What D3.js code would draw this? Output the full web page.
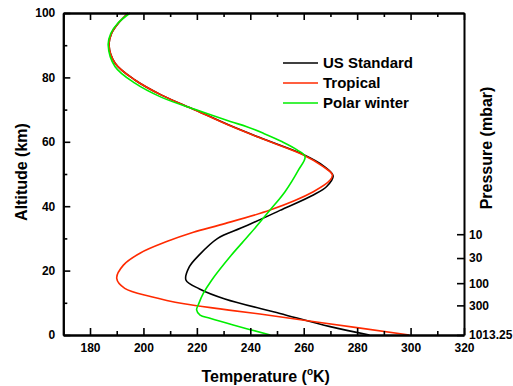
<!DOCTYPE html>
<meta charset="utf-8">
<style>
body { margin: 0; background: #fff; }
text { font-family: "Liberation Sans", Arial, sans-serif; font-weight: bold; }
.axis path, .axis line { stroke: #000; }
.axis path { stroke-width: 2px; }
.axis line { stroke-width: 1.6px; }
.axis text { font-size: 12px; fill: #000; }
.curve { fill: none; stroke-width: 1.6px; }
</style>
<body>
<script src="https://d3js.org/d3.v7.min.js"></script>
<script>
var width = 513,
    height = 386;

// altitude (km) -> temperature (K)
var usAlt   = [0, 2.6, 6.7, 11.2, 14.3, 17.1, 21.2, 24.8, 30, 33.2, 36.3, 38.7, 43.5, 46.1, 49.4, 52.4, 55.9, 60.6, 65.2, 69.9, 74.5, 79.2, 84.4, 90.1, 93.7, 96.8, 100];
var usTemp  = [284.6, 269.9, 251.1, 230.5, 221, 215.9, 217.2, 220.8, 227.8, 236.5, 244.9, 251.1, 263.6, 268.6, 271, 267.6, 260.2, 245.7, 232, 219.4, 206.8, 196.8, 189.4, 187.1, 188.1, 190.6, 194.3];

var tropAlt  = [0, 3.9, 6.5, 8.1, 9.7, 11.9, 14.5, 17.6, 21.7, 25.4, 29, 31.9, 34.2, 38.8, 44.5, 48.1, 49.8, 52.3, 55.9, 60.6, 65.2, 69.9, 74.5, 79.2, 84.4, 90.1, 93.7, 96.8, 100];
var tropTemp = [299.5, 266.1, 243.6, 228.7, 215.2, 203, 193, 190, 192.5, 198.7, 208.7, 218.7, 228.7, 247.4, 263.6, 269.9, 270.7, 267.3, 259.9, 245.5, 231.8, 219.3, 206.8, 196.8, 189.4, 187.1, 188.1, 190.6, 194.3];

var polAlt  = [0, 3.1, 5.2, 6.2, 7.8, 9.5, 12.9, 17.1, 24.3, 31.5, 38.8, 44.5, 51.2, 55.4, 57.5, 60, 62.6, 64.7, 66.3, 70, 73.8, 78.2, 83.3, 90.1, 93.7, 96.8, 100];
var polTemp = [247.5, 233.6, 224.9, 221.2, 219.9, 220.6, 222.4, 225.6, 232.4, 240, 247.4, 253, 258, 260.5, 257.5, 252, 245, 238.7, 232.5, 219.5, 206.8, 196.8, 189.4, 186.8, 187.8, 190.4, 195];

var seriesNames  = ["US Standard", "Tropical", "Polar winter"];
var seriesColors = ["#000000", "#ff2a00", "#00ee00"];

var tempTicks = [180, 200, 220, 240, 260, 280, 300, 320];
var tempMinor = [170, 190, 210, 230, 250, 270, 290, 310];
var altTicks  = [0, 20, 40, 60, 80, 100];
var altMinor  = [10, 30, 50, 70, 90];
var pressLabels = ["10", "30", "100", "300", "1013.25"];
var pressAlt    = [31.3, 23.9, 16.1, 9.2, 0];

var svg = d3.select("body").append("svg")
    .attr("width", width)
    .attr("height", height);

var x = d3.scaleLinear().domain([170, 320]).range([63.3, 464]);
var y = d3.scaleLinear().domain([0, 100]).range([335, 13]);

// curves
var series = [
  d3.zip(usAlt, usTemp),
  d3.zip(tropAlt, tropTemp),
  d3.zip(polAlt, polTemp)
];

var line = d3.line()
    .x(function(d) { return x(d[1]); })
    .y(function(d) { return y(d[0]); })
    .curve(d3.curveCatmullRom.alpha(0.5));

svg.selectAll(".curve")
    .data(series)
  .enter().append("path")
    .attr("class", "curve")
    .attr("stroke", function(d, i) { return seriesColors[i]; })
    .attr("d", line);

// minor ticks
svg.append("g").attr("class", "axis")
    .attr("transform", "translate(0," + y(0) + ")")
    .call(d3.axisBottom(x).tickValues(tempMinor).tickSize(-4).tickSizeOuter(0).tickFormat(""));
svg.append("g").attr("class", "axis")
    .attr("transform", "translate(0," + y(100) + ")")
    .call(d3.axisTop(x).tickValues(tempMinor).tickSize(-4).tickSizeOuter(0).tickFormat(""));
svg.append("g").attr("class", "axis")
    .attr("transform", "translate(" + x(170) + ",0)")
    .call(d3.axisLeft(y).tickValues(altMinor).tickSize(-4).tickSizeOuter(0).tickFormat(""));

// major axes
svg.append("g").attr("class", "axis")
    .attr("transform", "translate(0," + y(0) + ")")
    .call(d3.axisBottom(x).tickValues(tempTicks).tickSize(-7).tickSizeOuter(0).tickPadding(8));
svg.append("g").attr("class", "axis")
    .attr("transform", "translate(0," + y(100) + ")")
    .call(d3.axisTop(x).tickValues(tempTicks).tickSize(-7).tickSizeOuter(0).tickFormat(""));
svg.append("g").attr("class", "axis")
    .attr("transform", "translate(" + x(170) + ",0)")
    .call(d3.axisLeft(y).tickValues(altTicks).tickSize(-7).tickSizeOuter(0).tickPadding(8));
svg.append("g").attr("class", "axis")
    .attr("transform", "translate(" + x(320) + ",0)")
    .call(d3.axisRight(y).tickValues(pressAlt).tickSize(-7).tickSizeOuter(0).tickPadding(5)
      .tickFormat(function(d, i) { return pressLabels[i]; }));

// axis titles
var xt = svg.append("text")
    .attr("x", (x(170) + x(320)) / 2 + 2)
    .attr("y", 382)
    .attr("text-anchor", "middle")
    .style("font-size", "16px")
    .text("Temperature (");
xt.append("tspan").attr("dy", -7).style("font-size", "10px").text("o");
xt.append("tspan").attr("dy", 7).text("K)");

svg.append("text")
    .attr("transform", "translate(27,172) rotate(-90)")
    .attr("text-anchor", "middle")
    .style("font-size", "16px")
    .text("Altitude (km)");

svg.append("text")
    .attr("transform", "translate(492,148) rotate(-90)")
    .attr("text-anchor", "middle")
    .style("font-size", "16px")
    .text("Pressure (mbar)");

// legend
var legend = svg.selectAll(".legend")
    .data(seriesNames)
  .enter().append("g")
    .attr("class", "legend")
    .attr("transform", function(d, i) { return "translate(283," + (63 + i * 20) + ")"; });

legend.append("line")
    .attr("x1", 0).attr("x2", 35)
    .attr("stroke", function(d, i) { return seriesColors[i]; })
    .attr("stroke-width", 1.6);

legend.append("text")
    .attr("x", 40)
    .attr("dy", "0.36em")
    .style("font-size", "15px")
    .text(function(d) { return d; });
</script>
</body>
</html>
